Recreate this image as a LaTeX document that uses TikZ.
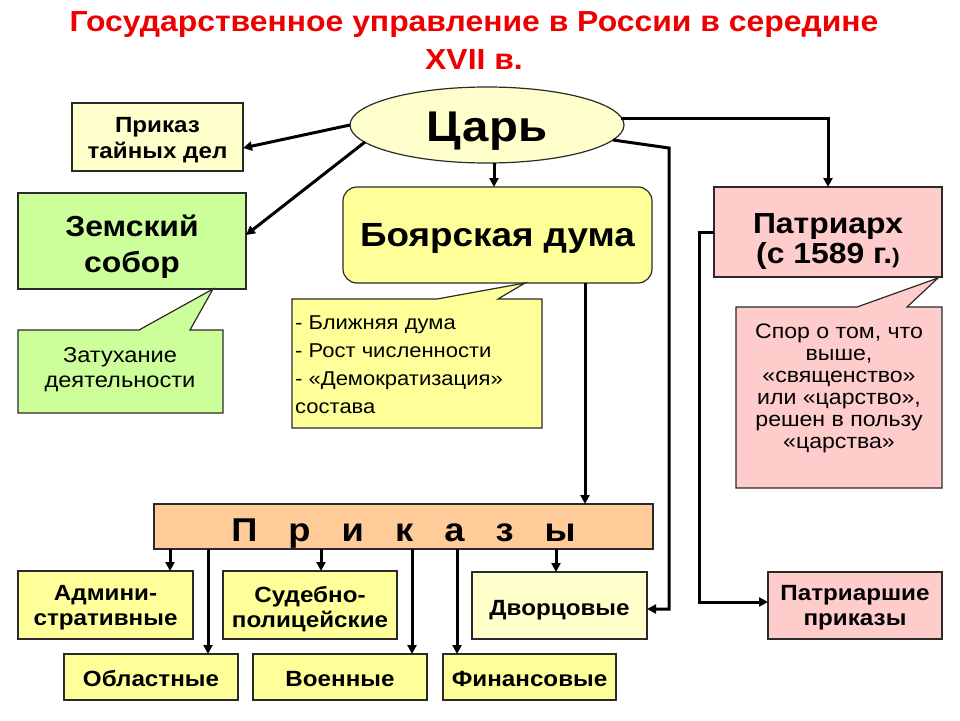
\documentclass[tikz,border=0pt]{standalone}
\usepackage{fontspec}
\setmainfont{Liberation Sans}[FakeStretch=1.1]
\usetikzlibrary{shapes.geometric,arrows.meta,calc}
\definecolor{ylight}{HTML}{FFFFCC}
\definecolor{yfill}{HTML}{FFFF99}
\definecolor{gfill}{HTML}{CCFF99}
\definecolor{pfill}{HTML}{FFCCCC}
\definecolor{ofill}{HTML}{FFCC99}
\definecolor{titlered}{RGB}{238,0,0}
\definecolor{edge}{HTML}{2A2A2A}
\newcommand\tallstrut[1]{\rule{0pt}{#1}}
\begin{document}
\begin{tikzpicture}[x=1pt,y=-1pt,
  box/.style={draw=edge, line width=1.2pt, inner sep=0pt, outer sep=0pt, align=center, text=black},
  fsmall/.style={font=\fontsize{22}{25}\selectfont\bfseries},
  conn/.style={line width=3pt, -{Triangle[length=9pt,width=9pt]}},
  callout/.style={draw=edge, line width=1.2pt, line join=miter}
]
\useasboundingbox (0,0) rectangle (960,720);

% title
\node[anchor=north, inner sep=0pt, align=center, text=titlered,
      font=\fontsize{29}{38}\selectfont\bfseries] (title) at (474,11)
  {Государственное управление в России в середине\\XVII в.};

% main nodes
\node[box, ellipse, fill=ylight, minimum width=274pt, minimum height=76pt,
      font=\fontsize{43}{48}\selectfont\bfseries] (tsar) at (487,125) {\tallstrut{42pt}Царь};
\node[box, fill=ylight, minimum width=171pt, minimum height=68pt,
      font=\fontsize{22}{26}\selectfont\bfseries] (secret) at (157.5,137) {\tallstrut{22pt}Приказ\\тайных дел};
\node[box, fill=gfill, minimum width=228pt, minimum height=96pt,
      font=\fontsize{29}{36}\selectfont\bfseries] (zemsky) at (132,241) {\tallstrut{34pt}Земский\\собор};
\node[box, fill=yfill, rounded corners=14pt, minimum width=309pt, minimum height=96pt,
      font=\fontsize{33.5}{38}\selectfont\bfseries] (boyar) at (497.5,235) {\tallstrut{29pt}Боярская дума};
\node[box, fill=pfill, minimum width=228pt, minimum height=90pt,
      font=\fontsize{29}{30}\selectfont\bfseries] (patr) at (828,232)
  {\tallstrut{40pt}Патриарх\\(с 1589 г.{\fontsize{21}{21}\selectfont)}};

% callouts
\draw[callout, fill=gfill] (18,330) -- (139,330) -- (213,289) -- (190,330) -- (223,330) -- (223,413) -- (18,413) -- cycle;
\node[align=center, inner sep=0pt, font=\fontsize{21.5}{25}\selectfont] (zcall) at (120,370) {Затухание\\деятельности};

\draw[callout, fill=yfill] (292,299) -- (437,299) -- (525,283) -- (498,299) -- (542,299) -- (542,428) -- (292,428) -- cycle;
\node[align=left, anchor=west, inner sep=0pt, font=\fontsize{20}{28}\selectfont] (bcall) at (295,365)
  {- Ближняя дума\\- Рост численности\\- «Демократизация»\\состава};

\draw[callout, fill=pfill] (736,307) -- (857,307) -- (938,278) -- (907,307) -- (942,307) -- (942,488) -- (736,488) -- cycle;
\node[align=center, inner sep=0pt, font=\fontsize{21}{22}\selectfont] (pcall) at (839,388)
  {Спор о том, что\\выше,\\«священство»\\или «царство»,\\решен в пользу\\«царства»};

% prikazy bar
\node[box, fill=ofill, minimum width=499pt, minimum height=45pt,
      font=\fontsize{33}{36}\selectfont\bfseries] (bar) at (403.5,526.5)
  {\tallstrut{37pt}П\hspace{21pt} р\hspace{21pt} и\hspace{21pt} к\hspace{21pt} а\hspace{21pt} з\hspace{21pt} ы};

% sub-prikazy
\node[box, fill=yfill, minimum width=175pt, minimum height=68pt, fsmall] (admin) at (105.5,605) {\tallstrut{21pt}Админи-\\стративные};
\node[box, fill=yfill, minimum width=174pt, minimum height=68pt, fsmall] (sudeb) at (310,605) {\tallstrut{24pt}Судебно-\\полицейские};
\node[box, fill=ylight, minimum width=175pt, minimum height=67pt, fsmall] (dvor) at (559.5,605.5) {\tallstrut{24pt}Дворцовые};
\node[box, fill=yfill, minimum width=174pt, minimum height=46pt, fsmall] (oblast) at (151,677) {\tallstrut{19pt}Областные};
\node[box, fill=yfill, minimum width=174pt, minimum height=46pt, fsmall] (voen) at (340,677) {\tallstrut{19pt}Военные};
\node[box, fill=yfill, minimum width=173pt, minimum height=46pt, fsmall] (finan) at (529.5,677) {\tallstrut{19pt}Финансовые};
\node[box, fill=pfill, minimum width=174pt, minimum height=67pt, fsmall] (patrpr) at (855,605.5) {\tallstrut{19pt}Патриаршие\\приказы};

% helper coordinates
\coordinate (xa) at (170,0);
\coordinate (xo) at (208,0);
\coordinate (xs) at (321,0);
\coordinate (xv) at (412,0);
\coordinate (xf) at (457,0);
\coordinate (xd) at (556,0);
\coordinate (xb) at (585,0);
\coordinate (xk) at (494,0);
\coordinate (xt) at (669,148);
\coordinate (tsw) at ($(tsar.center)+(-122,17)$);
\coordinate (tne) at ($(tsar.center)+(134,-7)$);
\coordinate (tse) at ($(tsar.center)+(126,15)$);
\coordinate (secin) at ($(secret.east)+(0,11)$);
\coordinate (zemin) at ($(zemsky.east)+(0,-6)$);
\coordinate (dvin) at ($(dvor.east)+(0,3.5)$);
\coordinate (ppin) at ($(patrpr.west)+(0,-3.5)$);

% connectors from the tsar
\draw[conn] (tsar.west) -- (secin);
\draw[conn] (tsw) -- (zemin);
\draw[conn] (xk |- tsar.south) -- (xk |- boyar.north);
\draw[conn] (tne) -| (patr.north);
\draw[conn] (tse) -- (xt) |- (dvin);

% patriarch
\draw[conn] (patr.west) -- ++(-15,0) |- (ppin);

% boyar duma to prikazy
\draw[conn] (xb |- boyar.south) -- (xb |- bar.north);

% prikazy to branches
\draw[conn] (xa |- bar.south) -- (xa |- admin.north);
\draw[conn] (xo |- bar.south) -- (xo |- oblast.north);
\draw[conn] (xs |- bar.south) -- (xs |- sudeb.north);
\draw[conn] (xv |- bar.south) -- (xv |- voen.north);
\draw[conn] (xf |- bar.south) -- (xf |- finan.north);
\draw[conn] (xd |- bar.south) -- (xd |- dvor.north);
\end{tikzpicture}
\end{document}
